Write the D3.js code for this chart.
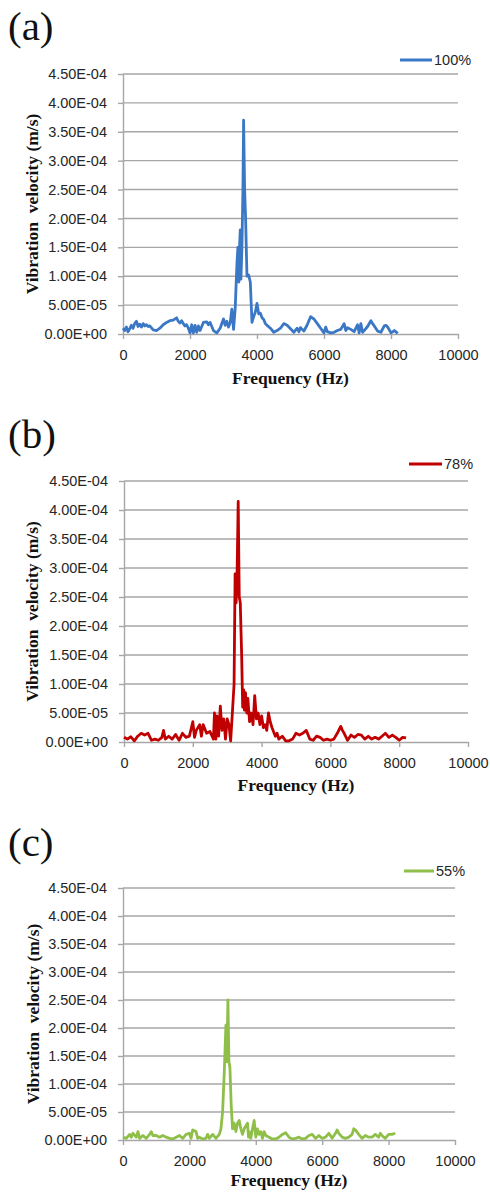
<!DOCTYPE html>
<html>
<head>
<meta charset="utf-8">
<script src="https://cdn.jsdelivr.net/npm/d3@7"></script>
<style>
  body { margin: 0; background: #fff; }
  .tick text { font-family: "Liberation Sans", Arial, sans-serif; font-size: 14.5px; fill: #262626; }
  .axis path, .axis line { stroke: #a6a6a6; stroke-width: 1.4; }
  .title { font-family: "Liberation Serif", "Times New Roman", serif; font-weight: bold; font-size: 17.5px; fill: #111; }
  .panel-label { font-family: "Liberation Serif", "Times New Roman", serif; font-size: 41px; fill: #111; }
  .legend text { font-family: "Liberation Sans", Arial, sans-serif; font-size: 14.5px; fill: #262626; }
</style>
</head>
<body>
<div id="chart"></div>
<script>
// velocities are in units of 1e-5 m/s
const xTicks = [0, 2000, 4000, 6000, 8000, 10000];
const yTicks = [0, 5, 10, 15, 20, 25, 30, 35, 40, 45];
const yTickLabels = ['0.00E+00', '5.00E-05', '1.00E-04', '1.50E-04', '2.00E-04',
  '2.50E-04', '3.00E-04', '3.50E-04', '4.00E-04', '4.50E-04'];

const freqA = [0, 50, 100, 150, 200, 250, 300, 350, 400, 450, 500, 550, 600, 650, 700, 750, 800, 900, 1000,
  1100, 1200, 1300, 1400, 1500, 1600, 1650, 1700, 1750, 1800, 1850, 1900, 1950, 2000, 2050, 2100, 2150,
  2200, 2250, 2300, 2400, 2500, 2550, 2600, 2700, 2800, 2900, 2950, 3000, 3050, 3100, 3150, 3200, 3250,
  3300, 3350, 3400, 3430, 3460, 3480, 3500, 3520, 3550, 3580, 3600, 3630, 3660, 3700, 3750, 3800, 3850,
  3900, 3950, 4000, 4050, 4100, 4150, 4200, 4250, 4300, 4400, 4500, 4600, 4700, 4800, 4900, 5000, 5100,
  5200, 5250, 5300, 5400, 5500, 5600, 5650, 5700, 5800, 5900, 6000, 6050, 6100, 6200, 6300, 6400, 6500,
  6600, 6650, 6700, 6800, 6900, 7000, 7050, 7100, 7150, 7200, 7300, 7400, 7450, 7500, 7600, 7700, 7800,
  7850, 7900, 8000, 8100, 8200];
const velA = [1.0, 0.6, 1.2, 0.4, 0.9, 1.5, 1.0, 1.8, 2.2, 1.3, 1.7, 1.2, 1.8, 1.4, 1.6, 1.3, 1.4, 0.7, 0.6,
  1.0, 1.6, 2.0, 2.3, 2.4, 2.8, 2.2, 1.9, 2.3, 1.8, 1.4, 1.6, 1.0, 0.2, 1.6, 0.2, 1.5,
  0.3, 1.4, 0.6, 2.0, 2.1, 1.6, 2.0, 0.6, 0.2, 1.0, 1.8, 2.6, 1.5, 2.2, 1.2, 2.0, 4.3,
  0.8, 4.5, 12.0, 15.0, 9.0, 15.2, 18.0, 9.5, 15.0, 25.0, 37.0, 25.0, 20.0, 10.0, 10.2, 9.0, 2.0,
  3.0, 3.8, 5.3, 3.5, 3.6, 2.8, 2.5, 1.8, 1.5, 1.0, 0.3, 0.6, 1.0, 1.8, 1.5, 0.9, 0.3,
  1.0, 0.4, 1.1, 0.5, 1.6, 3.0, 2.8, 2.6, 1.8, 1.0, 0.2, 1.2, 0.4, 0.2, 0.3, 0.6, 0.8,
  1.8, 0.6, 1.1, 0.8, 0.4, 1.6, 0.2, 1.8, 0.3, 0.6, 1.3, 2.3, 1.8, 1.4, 0.5, 0.3, 1.4,
  1.5, 1.2, 0.2, 0.6, 0.1];

const freqB = [0, 100, 200, 300, 400, 500, 600, 700, 800, 900, 1000, 1100, 1150, 1200, 1300, 1400, 1500,
  1600, 1700, 1800, 1900, 2000, 2050, 2100, 2200, 2250, 2300, 2400, 2500, 2600, 2630, 2670, 2700, 2750,
  2800, 2850, 2900, 2950, 3000, 3050, 3100, 3150, 3200, 3230, 3260, 3290, 3320, 3350, 3380, 3420, 3450,
  3480, 3500, 3530, 3570, 3600, 3650, 3700, 3750, 3800, 3850, 3900, 3950, 4000, 4050, 4100, 4150, 4200,
  4250, 4300, 4400, 4450, 4500, 4600, 4700, 4800, 4900, 5000, 5100, 5200, 5300, 5400, 5500, 5600, 5700,
  5800, 5900, 6000, 6100, 6200, 6300, 6350, 6400, 6500, 6600, 6700, 6800, 6900, 7000, 7100, 7200, 7300,
  7400, 7500, 7600, 7700, 7800, 7900, 8000, 8100, 8200];
const velB = [0.8, 0.5, 0.9, 0.2, 1.0, 1.5, 1.2, 1.5, 0.3, 0.5, 0.3, 0.8, 2.0, 0.5, 1.0, 0.5, 1.3,
  0.3, 1.5, 0.8, 1.0, 3.5, 0.8, 2.0, 3.0, 1.0, 3.0, 1.5, 1.8, 0.5, 5.0, 0.5, 4.5, 1.0,
  6.2, 2.0, 4.0, 0.5, 4.0, 3.0, 0.2, 5.0, 10.0, 29.0, 24.0, 30.0, 41.5, 25.0, 24.0, 15.0, 6.0,
  9.0, 5.5, 8.5, 5.0, 7.5, 3.5, 5.0, 3.0, 8.0, 4.0, 5.0, 3.0, 4.5, 2.5, 3.0, 2.0, 5.0,
  3.5, 2.5, 1.0, 1.5, 0.5, 1.0, 0.2, 0.2, 0.5, 1.5, 1.2, 1.5, 2.0, 0.5, 0.3, 1.0, 0.8,
  0.3, 0.5, 0.3, 0.5, 1.5, 2.7, 2.0, 1.5, 0.3, 1.2, 0.8, 1.3, 1.2, 0.5, 1.0, 0.5, 0.8,
  0.5, 1.0, 1.5, 0.8, 1.2, 0.8, 0.3, 0.8, 0.7];

const freqC = [0, 100, 200, 250, 300, 400, 450, 500, 600, 700, 800, 850, 900, 1000, 1100, 1200, 1300,
  1400, 1500, 1600, 1700, 1800, 1900, 2000, 2050, 2100, 2200, 2250, 2300, 2400, 2500, 2550, 2600, 2700,
  2800, 2900, 2950, 3000, 3050, 3100, 3130, 3160, 3190, 3220, 3260, 3300, 3350, 3400, 3450, 3500, 3550,
  3600, 3650, 3700, 3750, 3780, 3800, 3850, 3900, 3950, 4000, 4050, 4100, 4150, 4200, 4250, 4300, 4400,
  4500, 4600, 4700, 4800, 4900, 5000, 5100, 5200, 5300, 5400, 5500, 5600, 5700, 5800, 5900, 6000, 6100,
  6200, 6300, 6400, 6450, 6500, 6600, 6700, 6800, 6900, 6950, 7000, 7100, 7200, 7300, 7400, 7500, 7600,
  7700, 7750, 7800, 7900, 8000, 8100, 8200];
const velC = [0.5, 0.3, 1.0, 0.5, 1.2, 0.5, 1.5, 0.3, 0.8, 0.3, 1.0, 1.5, 0.8, 0.8, 0.5, 0.8, 0.5,
  0.3, 0.2, 0.5, 0.8, 0.3, 1.0, 1.2, 0.3, 1.8, 1.5, 0.3, 0.5, 0.2, 0.3, 1.0, 0.3, 1.0,
  0.3, 1.0, 2.0, 5.0, 12.0, 20.5, 14.0, 25.0, 14.0, 13.0, 6.0, 2.0, 3.0, 1.5, 3.0, 3.5, 2.0,
  1.0, 2.0, 2.5, 3.0, 0.5, 1.5, 0.3, 2.0, 3.5, 0.5, 2.0, 1.0, 1.5, 0.3, 1.5, 0.8, 0.5,
  0.2, 0.2, 0.5, 1.0, 1.3, 0.5, 0.2, 0.3, 0.5, 0.2, 0.3, 0.8, 1.0, 0.3, 0.8, 0.3, 0.5,
  1.2, 0.3, 1.2, 1.8, 1.2, 0.5, 0.3, 0.5, 1.0, 2.0, 1.8, 1.0, 0.3, 0.8, 0.5, 0.5, 1.0,
  0.5, 1.2, 0.8, 0.3, 1.0, 1.0, 1.2];

const panelLabels = ['(a)', '(b)', '(c)'];
const legendLabels = ['100%', '78%', '55%'];
const colors = ['#3a78c6', '#c00000', '#8fbf48'];
const freqs = [freqA, freqB, freqC];
const vels = [velA, velB, velC];

// pixel layout of each panel (from the reference image)
const layout = [
  { left: 123, right: 458, top: 74, bottom: 334, titleY: 384, labelY: 40, legY: 60, legX: 400, legLen: 32, yTitleX: 32 },
  { left: 124, right: 468, top: 481, bottom: 742, titleY: 791, labelY: 448, legY: 464, legX: 409, legLen: 33, yTitleX: 32 },
  { left: 123, right: 455, top: 888, bottom: 1140, titleY: 1186, labelY: 856, legY: 871, legX: 404, legLen: 30, yTitleX: 33 }
];

const svg = d3.select('#chart').append('svg')
  .attr('width', 490)
  .attr('height', 1193);

layout.forEach((p, i) => {
  const x = d3.scaleLinear().domain([0, 10000]).range([p.left, p.right]);
  const y = d3.scaleLinear().domain([0, 45]).range([p.bottom, p.top]);
  const g = svg.append('g');

  // gridlines
  g.append('g')
    .selectAll('line')
    .data(yTicks.slice(1))
    .join('line')
    .attr('x1', p.left)
    .attr('x2', p.right)
    .attr('y1', d => y(d))
    .attr('y2', d => y(d))
    .attr('stroke', '#a6a6a6')
    .attr('stroke-width', 1.4);

  const yAxis = d3.axisLeft(y)
    .tickValues(yTicks)
    .tickFormat((d, j) => yTickLabels[j])
    .tickSize(5)
    .tickSizeOuter(0)
    .tickPadding(11);
  g.append('g')
    .attr('class', 'axis')
    .attr('transform', `translate(${p.left},0)`)
    .call(yAxis);

  const xAxis = d3.axisBottom(x)
    .tickValues(xTicks)
    .tickFormat(d3.format('d'))
    .tickSize(5)
    .tickSizeOuter(0)
    .tickPadding(11);
  g.append('g')
    .attr('class', 'axis')
    .attr('transform', `translate(0,${p.bottom})`)
    .call(xAxis);

  const line = d3.line()
    .x(d => x(d[0]))
    .y(d => y(d[1]));

  g.append('path')
    .datum(d3.zip(freqs[i], vels[i]))
    .attr('fill', 'none')
    .attr('stroke', colors[i])
    .attr('stroke-width', 2.8)
    .attr('stroke-linejoin', 'round')
    .attr('d', line);

  // axis titles
  g.append('text')
    .attr('class', 'title')
    .attr('x', (p.left + p.right) / 2)
    .attr('y', p.titleY)
    .attr('text-anchor', 'middle')
    .text('Frequency (Hz)');

  g.append('text')
    .attr('class', 'title')
    .attr('transform', `translate(${p.yTitleX},${(p.top + p.bottom) / 2}) rotate(-90)`)
    .attr('text-anchor', 'middle')
    .attr('dy', '0.35em')
    .style('white-space', 'pre')
    .text('Vibration  velocity (m/s)');

  svg.append('text')
    .attr('class', 'panel-label')
    .attr('x', 8)
    .attr('y', p.labelY)
    .text(panelLabels[i]);

  const leg = svg.append('g').attr('class', 'legend');
  leg.append('line')
    .attr('x1', p.legX)
    .attr('x2', p.legX + p.legLen)
    .attr('y1', p.legY)
    .attr('y2', p.legY)
    .attr('stroke', colors[i])
    .attr('stroke-width', 3);
  leg.append('text')
    .attr('x', p.legX + p.legLen + 2)
    .attr('y', p.legY)
    .attr('dy', '0.35em')
    .text(legendLabels[i]);
});
</script>
</body>
</html>
